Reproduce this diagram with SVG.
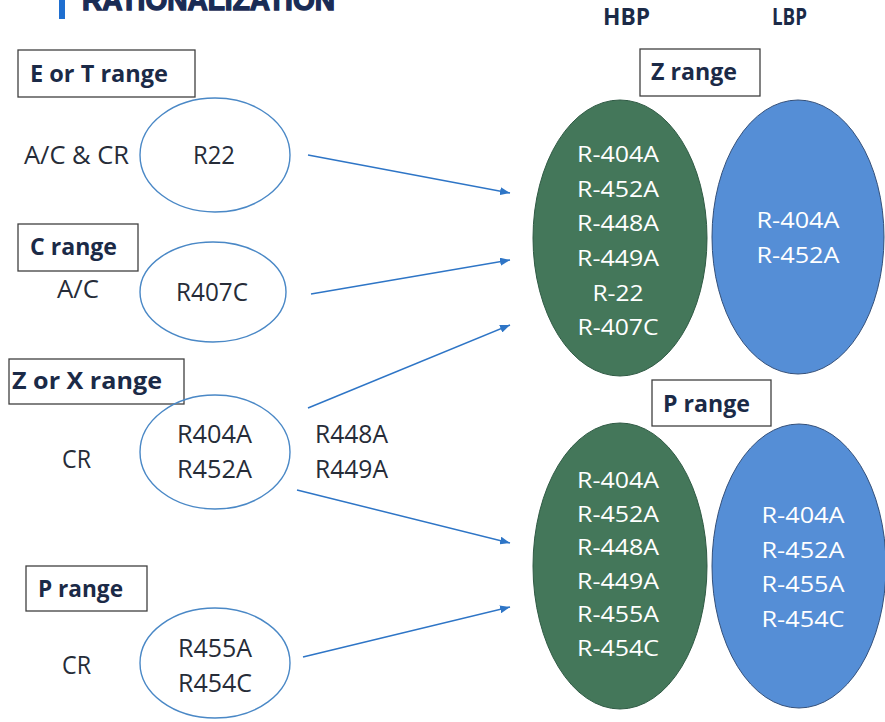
<svg xmlns="http://www.w3.org/2000/svg" width="885" height="722" viewBox="0 0 885 722">
<style>
.lbl{font-family:"Open Sans","Liberation Sans",sans-serif;font-size:25px;fill:#262c38}
.bold{font-family:"Open Sans","Liberation Sans",sans-serif;font-weight:bold;font-size:24px;fill:#1b2a47}
.wt{font-family:"Open Sans","Liberation Sans",sans-serif;font-size:21px;fill:#ffffff;text-anchor:middle}
.box{fill:#ffffff;stroke:#404040;stroke-width:1.3}
.small{fill:none;stroke:#4a88c6;stroke-width:1.4}
.green{fill:#44775a;stroke:#2f5a44;stroke-width:1}
.blue{fill:#558ed6;stroke:#34507a;stroke-width:1}
.conn{stroke:#2e75c6;stroke-width:1.5;fill:none;marker-end:url(#ah)}
</style>
<defs>
<marker id="ah" markerWidth="10" markerHeight="8" refX="10" refY="4" orient="auto" markerUnits="userSpaceOnUse">
<path d="M0,0 L10,4 L0,8 Z" fill="#2e75c6"/>
</marker>
</defs>
<rect width="885" height="722" fill="#ffffff"/>
<g id="title">
<rect x="59" y="0" width="6" height="19" fill="#1f6fd0"/>
<text x="82" y="10" font-family="Liberation Sans, sans-serif" font-weight="bold" font-size="30" fill="#1a2c55" stroke="#1a2c55" stroke-width="1.4" textLength="253" lengthAdjust="spacingAndGlyphs">RATIONALIZATION</text>
</g>
<g id="headers">
<text class="bold" x="603" y="25" font-size="21" textLength="47" lengthAdjust="spacingAndGlyphs">HBP</text>
<text class="bold" x="772" y="25" font-size="21" textLength="35" lengthAdjust="spacingAndGlyphs">LBP</text>
</g>
<g id="connectors">
<line class="conn" x1="308" y1="155" x2="510" y2="193"/>
<line class="conn" x1="311" y1="294" x2="510" y2="260"/>
<line class="conn" x1="308" y1="408" x2="510" y2="325"/>
<line class="conn" x1="297" y1="490" x2="510" y2="543"/>
<line class="conn" x1="303" y1="657" x2="510" y2="607"/>
</g>
<g id="node-et">
<rect class="box" x="18" y="50" width="177" height="47"/>
<text class="bold" x="30" y="82" textLength="138" lengthAdjust="spacingAndGlyphs">E or T range</text>
<text class="lbl" x="24" y="164" textLength="105" lengthAdjust="spacingAndGlyphs">A/C &amp; CR</text>
<ellipse class="small" cx="215" cy="155" rx="75" ry="57"/>
<text class="lbl" x="193" y="164" textLength="42" lengthAdjust="spacingAndGlyphs">R22</text>
</g>
<g id="node-c">
<rect class="box" x="18" y="224" width="120" height="47"/>
<text class="bold" x="30" y="255" textLength="87" lengthAdjust="spacingAndGlyphs">C range</text>
<text class="lbl" x="57" y="298" textLength="42" lengthAdjust="spacingAndGlyphs">A/C</text>
<ellipse class="small" cx="213" cy="292" rx="73" ry="50"/>
<text class="lbl" x="176" y="301" textLength="72" lengthAdjust="spacingAndGlyphs">R407C</text>
</g>
<g id="node-zx">
<rect class="box" x="9" y="359" width="175" height="45"/>
<text class="bold" x="12" y="389" textLength="150" lengthAdjust="spacingAndGlyphs">Z or X range</text>
<text class="lbl" x="62" y="468" textLength="29" lengthAdjust="spacingAndGlyphs">CR</text>
<ellipse class="small" cx="215" cy="452" rx="75" ry="57"/>
<text class="lbl" x="177" y="443" textLength="75" lengthAdjust="spacingAndGlyphs">R404A</text>
<text class="lbl" x="177" y="478" textLength="75" lengthAdjust="spacingAndGlyphs">R452A</text>
<text class="lbl" x="315" y="443" textLength="73" lengthAdjust="spacingAndGlyphs">R448A</text>
<text class="lbl" x="315" y="478" textLength="73" lengthAdjust="spacingAndGlyphs">R449A</text>
</g>
<g id="node-p-left">
<rect class="box" x="26" y="566" width="121" height="45"/>
<text class="bold" x="38" y="597" textLength="85" lengthAdjust="spacingAndGlyphs">P range</text>
<text class="lbl" x="62" y="674" textLength="29" lengthAdjust="spacingAndGlyphs">CR</text>
<ellipse class="small" cx="215" cy="663" rx="75" ry="55"/>
<text class="lbl" x="178" y="657" textLength="74" lengthAdjust="spacingAndGlyphs">R455A</text>
<text class="lbl" x="178" y="692" textLength="74" lengthAdjust="spacingAndGlyphs">R454C</text>
</g>
<g id="node-z-range">
<rect class="box" x="640" y="49" width="120" height="47"/>
<text class="bold" x="651" y="80" textLength="86" lengthAdjust="spacingAndGlyphs">Z range</text>
</g>
<g id="node-z-hbp">
<ellipse class="green" cx="620" cy="238" rx="87" ry="138"/>
<text class="wt" x="618" y="162" textLength="82" lengthAdjust="spacingAndGlyphs">R-404A</text>
<text class="wt" x="618" y="197" textLength="82" lengthAdjust="spacingAndGlyphs">R-452A</text>
<text class="wt" x="618" y="231" textLength="82" lengthAdjust="spacingAndGlyphs">R-448A</text>
<text class="wt" x="618" y="266" textLength="82" lengthAdjust="spacingAndGlyphs">R-449A</text>
<text class="wt" x="618" y="301" textLength="51" lengthAdjust="spacingAndGlyphs">R-22</text>
<text class="wt" x="618" y="335" textLength="81" lengthAdjust="spacingAndGlyphs">R-407C</text>
</g>
<g id="node-z-lbp">
<ellipse class="blue" cx="798" cy="237" rx="86" ry="137"/>
<text class="wt" x="798" y="228" textLength="83" lengthAdjust="spacingAndGlyphs">R-404A</text>
<text class="wt" x="798" y="263" textLength="83" lengthAdjust="spacingAndGlyphs">R-452A</text>
</g>
<g id="node-p-range">
<rect class="box" x="652" y="380" width="119" height="46"/>
<text class="bold" x="663" y="412" textLength="87" lengthAdjust="spacingAndGlyphs">P range</text>
</g>
<g id="node-p-hbp">
<ellipse class="green" cx="620" cy="566" rx="87" ry="143"/>
<text class="wt" x="618" y="488" textLength="82" lengthAdjust="spacingAndGlyphs">R-404A</text>
<text class="wt" x="618" y="522" textLength="82" lengthAdjust="spacingAndGlyphs">R-452A</text>
<text class="wt" x="618" y="555" textLength="82" lengthAdjust="spacingAndGlyphs">R-448A</text>
<text class="wt" x="618" y="589" textLength="82" lengthAdjust="spacingAndGlyphs">R-449A</text>
<text class="wt" x="618" y="622" textLength="82" lengthAdjust="spacingAndGlyphs">R-455A</text>
<text class="wt" x="618" y="656" textLength="82" lengthAdjust="spacingAndGlyphs">R-454C</text>
</g>
<g id="node-p-lbp">
<ellipse class="blue" cx="799" cy="566" rx="87" ry="142"/>
<text class="wt" x="803" y="523" textLength="83" lengthAdjust="spacingAndGlyphs">R-404A</text>
<text class="wt" x="803" y="558" textLength="83" lengthAdjust="spacingAndGlyphs">R-452A</text>
<text class="wt" x="803" y="592" textLength="83" lengthAdjust="spacingAndGlyphs">R-455A</text>
<text class="wt" x="803" y="627" textLength="83" lengthAdjust="spacingAndGlyphs">R-454C</text>
</g>
</svg>
